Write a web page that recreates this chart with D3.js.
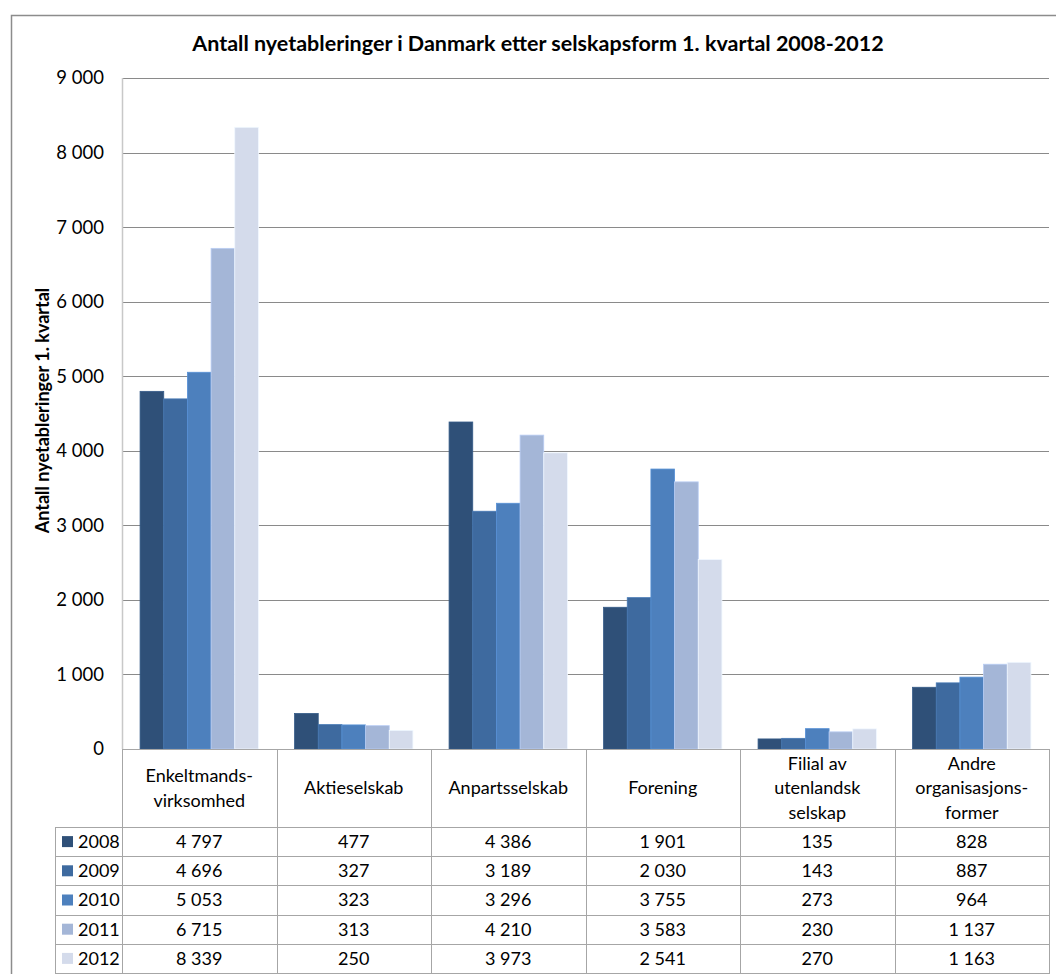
<!DOCTYPE html>
<html>
<head>
<meta charset="utf-8">
<script src="https://cdn.jsdelivr.net/npm/d3@7"></script>
<style>
  html, body { margin: 0; padding: 0; background: #fff; }
  svg { display: block; font-family: Lato, "Open Sans", sans-serif; }
</style>
</head>
<body>
<svg id="chart" width="1056" height="974"></svg>
<script>
// Categories (company forms), one label line per array entry
const categories = [
  ["Enkeltmands-", "virksomhed"],
  ["Aktieselskab"],
  ["Anpartsselskab"],
  ["Forening"],
  ["Filial av", "utenlandsk", "selskap"],
  ["Andre", "organisasjons-", "former"]
];
const years = ["2008", "2009", "2010", "2011", "2012"];
const v2008 = [4797, 477, 4386, 1901, 135, 828];
const v2009 = [4696, 327, 3189, 2030, 143, 887];
const v2010 = [5053, 323, 3296, 3755, 273, 964];
const v2011 = [6715, 313, 4210, 3583, 230, 1137];
const v2012 = [8339, 250, 3973, 2541, 270, 1163];
const yTicks = [0, 1000, 2000, 3000, 4000, 5000, 6000, 7000, 8000, 9000];
const colors = ["#2F5078", "#3E6A9F", "#4D80BD", "#A4B6D7", "#D4DBEB"];

const series = [v2008, v2009, v2010, v2011, v2012];
const fmtTable = n => d3.format(",")(n).replace(/,/g, " ");

const svg = d3.select("#chart");

// chart frame
svg.append("rect")
  .attr("x", 11.5).attr("y", 15.5)
  .attr("width", 1100).attr("height", 1000)
  .attr("fill", "#fff").attr("stroke", "#8c8c8c").attr("stroke-width", 1.5);

// title
svg.append("text")
  .attr("x", 538).attr("y", 51)
  .attr("text-anchor", "middle")
  .attr("font-size", 21.5).attr("font-weight", "bold").attr("fill", "#000")
  .text("Antall nyetableringer i Danmark etter selskapsform 1. kvartal 2008-2012");

const plot = { left: 122, right: 1049, top: 78, bottom: 749 };

const x0 = d3.scaleBand()
  .domain(d3.range(categories.length))
  .range([plot.left, plot.right]);

const x1 = d3.scaleBand()
  .domain(years)
  .range([x0.bandwidth() * 0.117, x0.bandwidth() * 0.883]);

const y = d3.scaleLinear().domain([0, 9000]).range([plot.bottom, plot.top]);

// gridlines
svg.append("g")
  .selectAll("line")
  .data(yTicks.filter(t => t > 0))
  .join("line")
  .attr("x1", plot.left).attr("x2", plot.right)
  .attr("y1", d => Math.round(y(d)) + 0.5).attr("y2", d => Math.round(y(d)) + 0.5)
  .attr("stroke", "#8a8a8a").attr("stroke-width", 1);

// y axis labels
const yAxis = d3.axisLeft(y).tickValues(yTicks).tickSize(0).tickPadding(0)
  .tickFormat(d => d3.format(",")(d).replace(/,/g, " "));
const ya = svg.append("g").attr("transform", `translate(${plot.left - 18},0)`).call(yAxis);
ya.select(".domain").remove();
ya.selectAll("text").attr("font-size", 18.5).attr("fill", "#000")
  .attr("font-family", "Lato, 'Open Sans', sans-serif");

// plot area left edge
svg.append("line")
  .attr("x1", plot.left + 0.5).attr("x2", plot.left + 0.5)
  .attr("y1", plot.top).attr("y2", plot.bottom)
  .attr("stroke", "#c8c8c8").attr("stroke-width", 1.5);

// y axis title
svg.append("text")
  .attr("transform", `translate(49, ${(plot.top + plot.bottom) / 2 - 3}) rotate(-90)`)
  .attr("text-anchor", "middle")
  .attr("font-size", 18).attr("font-weight", "bold").attr("fill", "#000")
  .text("Antall nyetableringer 1. kvartal");

// bars
const groups = svg.append("g")
  .selectAll("g")
  .data(categories.map((c, i) => i))
  .join("g")
  .attr("transform", i => `translate(${x0(i)},0)`);

groups.selectAll("rect")
  .data(i => years.map((yr, k) => ({ yr, k, v: series[k][i] })))
  .join("rect")
  .attr("x", d => x1(d.yr))
  .attr("width", x1.bandwidth())
  .attr("y", d => y(d.v))
  .attr("height", d => y(0) - y(d.v))
  .attr("fill", d => colors[d.k])
  .attr("stroke", d => d3.color(colors[d.k]).brighter(0.35))
  .attr("stroke-width", 0.8);

// data table
const headerTop = plot.bottom, headerBottom = 827;
const rowH = 29.2;
const tableLeft = 55;
const tableBottom = headerBottom + rowH * years.length;
const tg = svg.append("g");
const gridStroke = "#a6a6a6";

// header row top line
tg.append("line").attr("x1", plot.left).attr("x2", plot.right)
  .attr("y1", headerTop + 0.5).attr("y2", headerTop + 0.5)
  .attr("stroke", gridStroke);
// verticals through all rows
x0.domain().concat([categories.length]).forEach(i => {
  const xx = Math.round(i < categories.length ? x0(i) : plot.right) + 0.5;
  tg.append("line").attr("x1", xx).attr("x2", xx)
    .attr("y1", headerTop).attr("y2", tableBottom + 5).attr("stroke", gridStroke);
});
// legend column left edge
tg.append("line").attr("x1", tableLeft + 0.5).attr("x2", tableLeft + 0.5)
  .attr("y1", headerBottom).attr("y2", tableBottom + 5).attr("stroke", gridStroke);
// horizontal row lines
d3.range(years.length + 1).forEach(r => {
  const yy = Math.round(headerBottom + r * rowH) + 0.5;
  tg.append("line").attr("x1", tableLeft).attr("x2", plot.right)
    .attr("y1", yy).attr("y2", yy).attr("stroke", gridStroke);
});

// header labels
categories.forEach((lines, i) => {
  const cx = x0(i) + x0.bandwidth() / 2;
  const lh = 24.5;
  const mid = (headerTop + headerBottom) / 2;
  const start = mid - (lines.length - 1) * lh / 2;
  lines.forEach((ln, j) => {
    tg.append("text")
      .attr("x", cx).attr("y", start + j * lh)
      .attr("dy", "0.35em")
      .attr("text-anchor", "middle").attr("font-size", 18).attr("fill", "#000")
      .text(ln);
  });
});

// rows: legend keys and values
years.forEach((yr, k) => {
  const cy = headerBottom + k * rowH + rowH / 2;
  tg.append("rect")
    .attr("x", 62).attr("y", cy - 5.5).attr("width", 11).attr("height", 11)
    .attr("fill", colors[k]);
  tg.append("text")
    .attr("x", 78).attr("y", cy).attr("dy", "0.35em")
    .attr("font-size", 18).attr("fill", "#000").text(yr);
  series[k].forEach((v, i) => {
    tg.append("text")
      .attr("x", x0(i) + x0.bandwidth() / 2).attr("y", cy).attr("dy", "0.35em")
      .attr("text-anchor", "middle").attr("font-size", 18).attr("fill", "#000")
      .text(fmtTable(v));
  });
});
</script>
</body>
</html>
